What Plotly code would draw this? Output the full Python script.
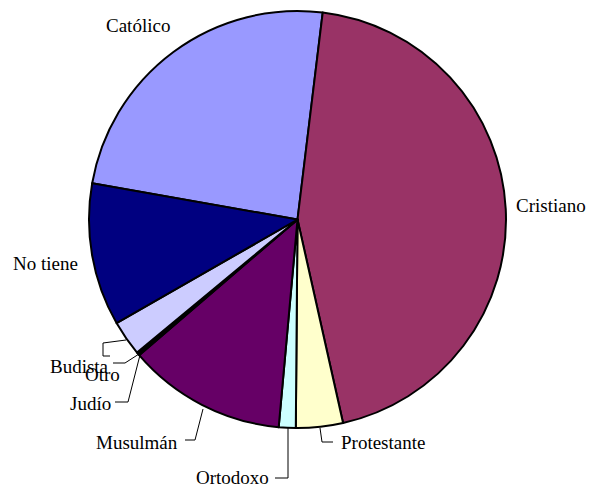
import plotly.graph_objects as go

W, H = 593, 489

# Data (percent shares), clockwise starting at "Católico"
labels = ["Católico", "Cristiano", "Protestante", "Ortodoxo", "Musulmán",
          "Judío", "Otro", "Budista", "No tiene"]
values = [24.17, 44.6, 3.64, 1.31, 12.3, 0.15, 0.1, 2.75, 11.06]
colors = ["#9999FF", "#993366", "#FFFFCC", "#CCFFFF", "#660066",
          "#FF8080", "#0066CC", "#CCCCFF", "#000080"]

def px(x, y):
    return x / W, 1 - y / H

# pie placement (pixels)
cx, cy, r = 297.5, 219.5, 208.5
x0, y1 = px(cx - r, cy - r)
x1, y0 = px(cx + r, cy + r)

fig = go.Figure(go.Pie(
    labels=labels, values=values, sort=False, direction="clockwise",
    rotation=280, textinfo="none", hoverinfo="label+percent",
    marker=dict(colors=colors, line=dict(color="black", width=2)),
    domain=dict(x=[x0, x1], y=[y0, y1]), showlegend=False,
))

# label positions (pixels) and leader line paths
label_pos = {
    "Católico": (138, 26),
    "Cristiano": (551, 205),
    "No tiene": (45, 263),
    "Budista": (79, 366),
    "Otro": (102, 374),
    "Judío": (90, 403),
    "Musulmán": (137, 442),
    "Ortodoxo": (232, 477),
    "Protestante": (383, 442),
}
leaders = [
    [(110, 356), (103, 356), (103, 343), (126, 340)],
    [(113, 363), (125, 363), (139, 354)],
    [(115, 402), (128, 402), (140, 355)],
    [(185, 440), (195, 440), (203, 409)],
    [(275, 478), (288, 478), (288, 427)],
    [(333, 442), (322, 442), (320, 428)],
]

annotations = []
for name, (x, y) in label_pos.items():
    ax_, ay_ = px(x, y)
    annotations.append(dict(
        x=ax_, y=ay_, xref="paper", yref="paper", text=name, showarrow=False,
        xanchor="center", yanchor="middle",
        font=dict(family="Liberation Serif, Times New Roman, serif", size=19, color="black"),
    ))

shapes = []
for pts in leaders:
    path = ""
    for i, (x, y) in enumerate(pts):
        fx, fy = px(x, y)
        path += ("M" if i == 0 else "L") + f"{fx},{fy} "
    shapes.append(dict(type="path", path=path.strip(), xref="paper", yref="paper",
                       line=dict(color="black", width=1)))

fig.update_layout(
    width=W, height=H, margin=dict(l=0, r=0, t=0, b=0),
    paper_bgcolor="white", plot_bgcolor="white",
    annotations=annotations, shapes=shapes,
)

fig.write_html("out.html", config={"displayModeBar": False},
               post_script="document.body.style.margin='0';document.body.style.overflow='hidden';")
